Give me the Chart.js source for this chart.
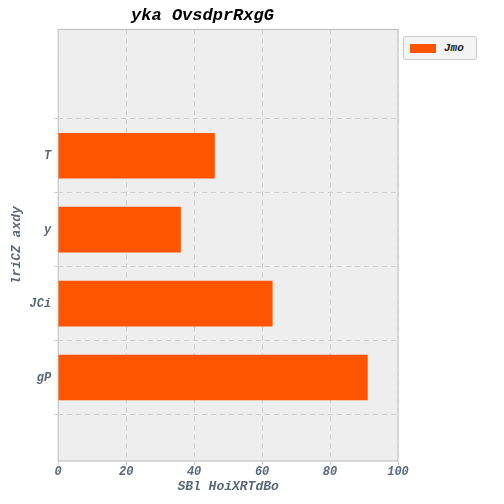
<!DOCTYPE html>
<html><head><meta charset="utf-8">
<script src="https://cdn.jsdelivr.net/npm/chart.js@4"></script>
<style>
body{margin:0;background:#fff;}
#wrap{position:relative;width:504px;height:504px;}
#leg{position:absolute;left:403px;top:36px;width:72px;height:22px;border:1px solid #ccc;border-radius:3px;background:#f4f4f4;font:italic bold 11px "Liberation Mono",monospace;color:#222;display:flex;align-items:center;}
#leg span.b{display:inline-block;width:26px;height:9px;background:#ff5500;margin:0 8px 0 6px;}
</style></head>
<body><div id="wrap"><canvas id="c" width="504" height="504"></canvas>
<div id="leg"><span class="b"></span>Jmo</div></div>
<script>
// dados (de cima para baixo)
var categorias = ['T', 'y', 'JCi', 'gP'];
var valores = [46, 36, 63, 91];
var xTicks = [0, 20, 40, 60, 80, 100];

var fonte = {family: '"Liberation Mono", monospace', style: 'italic', weight: 'bold', size: 12};
var corTexto = '#5a6878';
var n = categorias.length;

var fundo = {
    id: 'fundo',
    beforeDraw: function (chart) {
        var a = chart.chartArea, ctx = chart.ctx;
        ctx.save();
        ctx.fillStyle = '#eeeeee';
        ctx.fillRect(a.left, a.top, a.right - a.left, a.bottom - a.top);
        ctx.strokeStyle = '#bbbbbb';
        ctx.strokeRect(a.left, a.top, a.right - a.left, a.bottom - a.top);
        ctx.restore();
    }
};

var pontos = valores.map(function (v, i) { return {x: v, y: n - 1 - i}; });

new Chart(document.getElementById('c').getContext('2d'), {
    type: 'bar',
    plugins: [fundo],
    data: {
        datasets: [{
            label: 'Jmo',
            data: pontos,
            backgroundColor: '#ff5500',
            barThickness: 45
        }]
    },
    options: {
        indexAxis: 'y',
        responsive: false,
        animation: false,
        layout: {padding: {right: 106, left: 7, bottom: 9}},
        plugins: {
            legend: {display: false},
            tooltip: {enabled: false},
            title: {display: true, text: 'yka OvsdprRxgG', color: '#000',
                font: {family: '"Liberation Mono", monospace', style: 'italic', weight: 'bold', size: 17},
                padding: {top: 6, bottom: 3}}
        },
        scales: {
            x: {
                type: 'linear',
                min: 0, max: 100,
                afterBuildTicks: function (s) { s.ticks = xTicks.map(function (v) { return {value: v}; }); },
                grid: {color: '#d0d0d0', tickLength: 4},
                border: {dash: [5, 4], display: false},
                ticks: {color: corTexto, font: fonte, padding: 0},
                title: {display: true, text: 'SBl HoiXRTdBo', color: corTexto, font: {family: fonte.family, style: 'italic', weight: 'bold', size: 13}, padding: 0}
            },
            y: {
                type: 'linear',
                min: -0.4, max: 3.98,
                afterBuildTicks: function (s) { s.ticks = categorias.map(function (c, i) { return {value: i}; }); },
                grid: {color: '#d0d0d0', tickLength: 4},
                border: {dash: [5, 4], display: false},
                ticks: {color: corTexto, font: fonte, callback: function (v) { return categorias[n - 1 - v]; }},
                title: {display: true, text: 'lriCZ axdy', color: corTexto, font: {family: fonte.family, style: 'italic', weight: 'bold', size: 13}, padding: 2}
            }
        }
    }
});
</script></body></html>
